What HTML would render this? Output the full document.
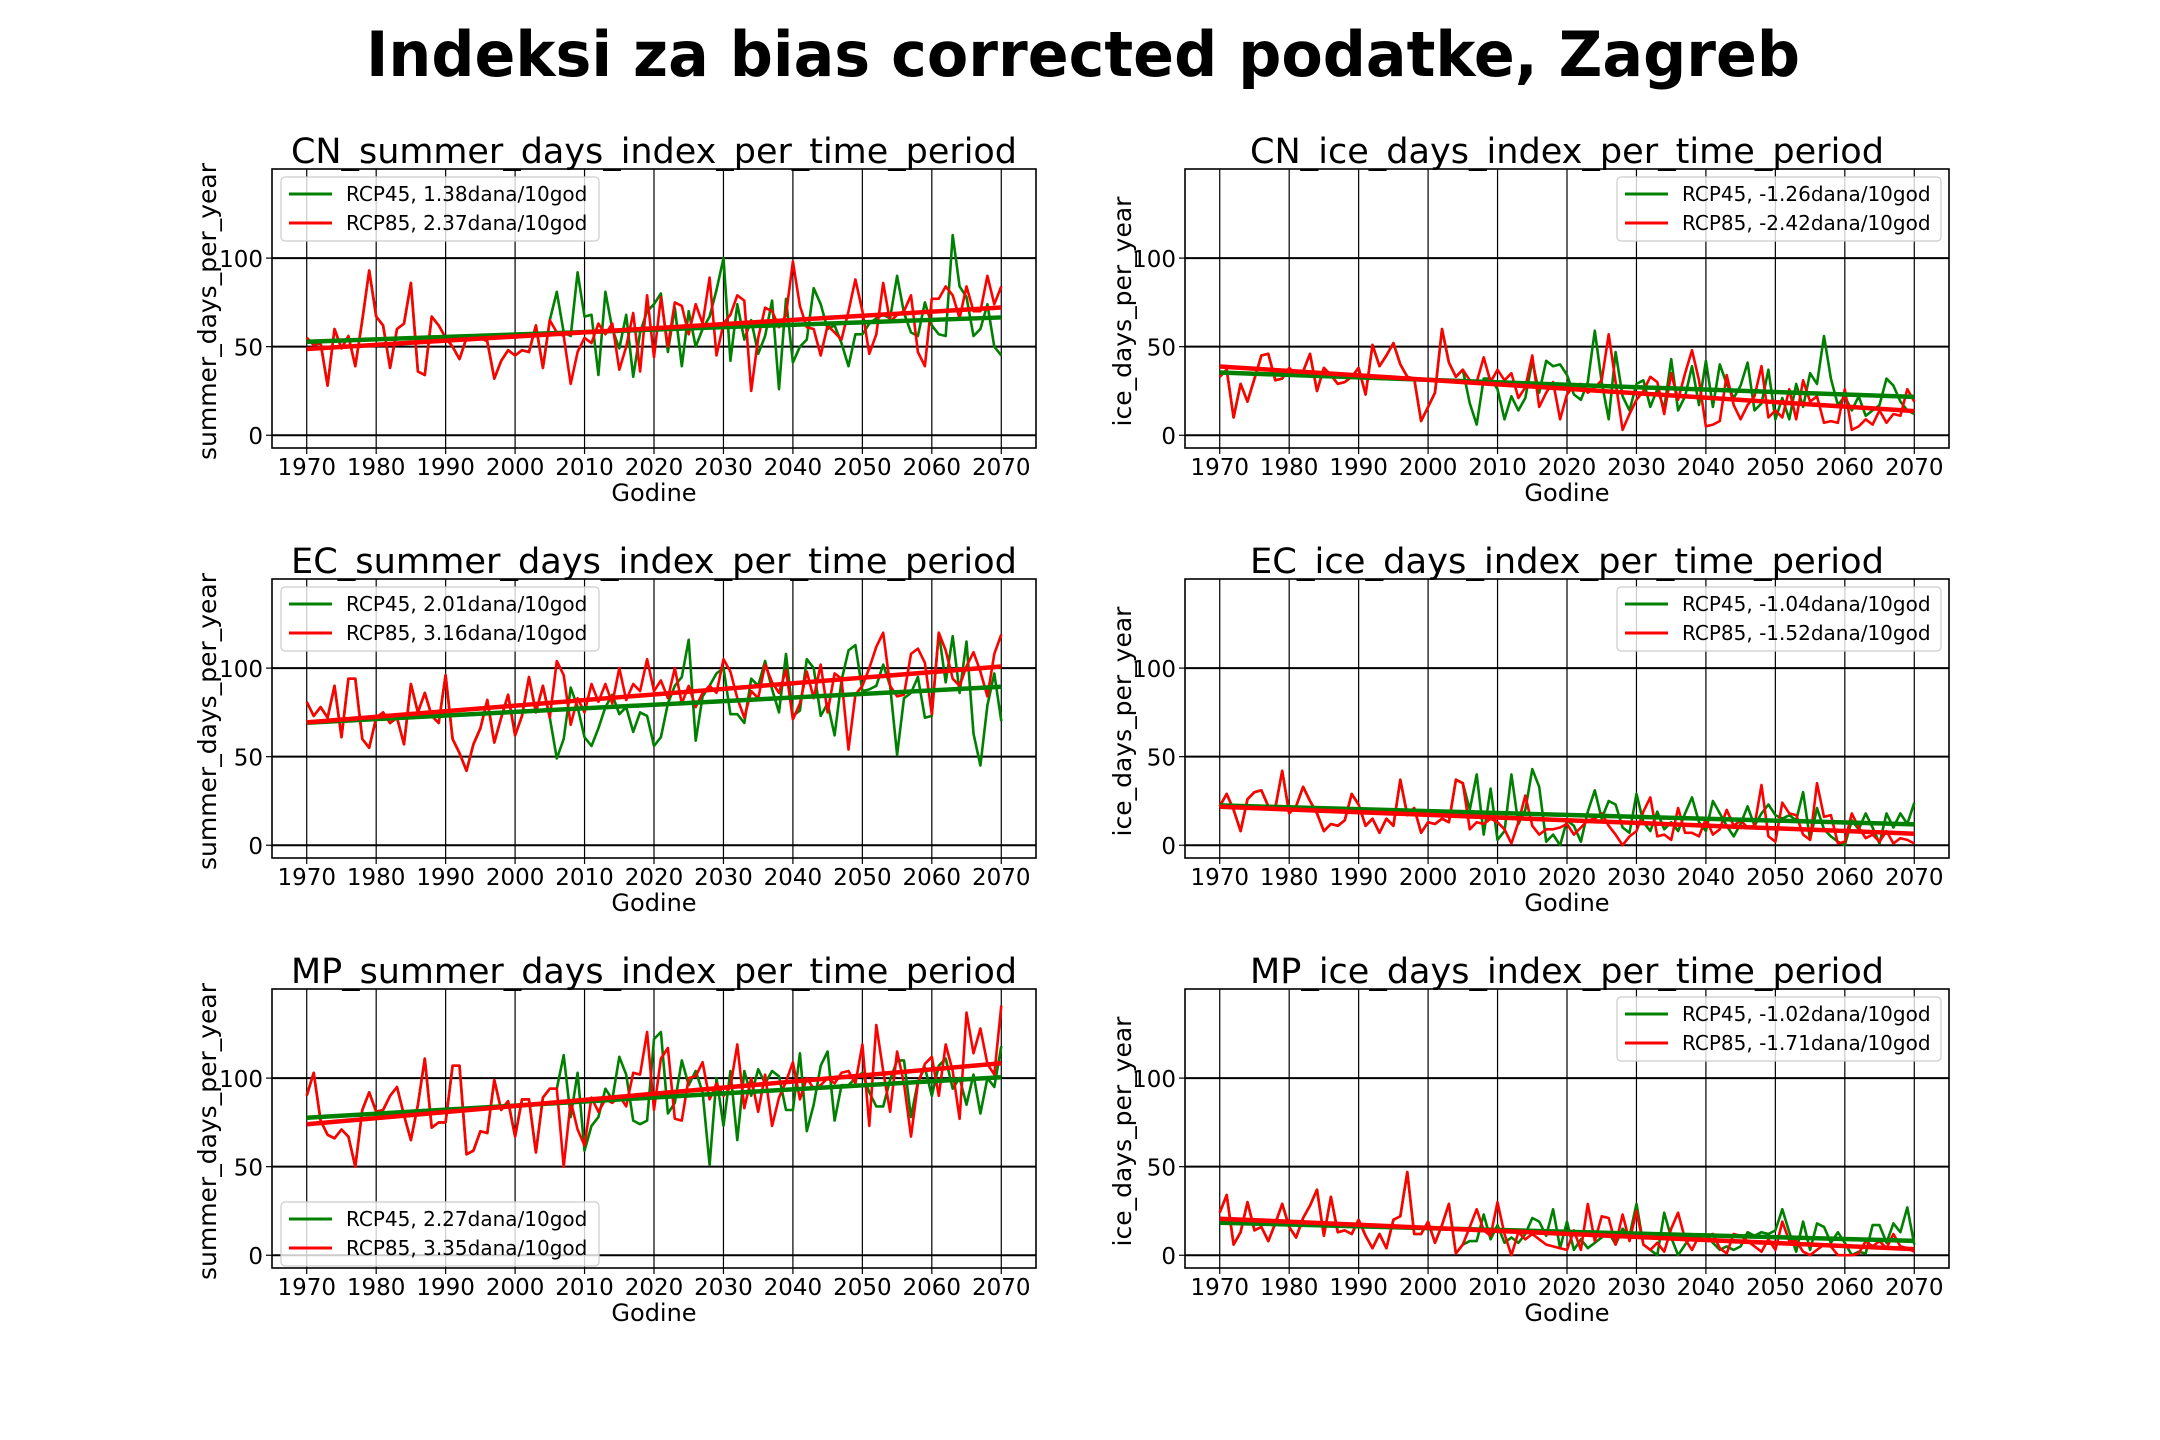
<!DOCTYPE html>
<html><head><meta charset="utf-8"><style>
html,body{margin:0;padding:0;background:#fff;}
svg{display:block;}
text{font-family:"DejaVu Sans","Liberation Sans",sans-serif;}
</style></head>
<body>
<svg id="fig" width="2160" height="1440" viewBox="0 0 2160 1440" xmlns="http://www.w3.org/2000/svg">
<rect x="0" y="0" width="2160" height="1440" fill="#fff"/>
<text x="1083" y="76" text-anchor="middle" font-size="62" font-weight="bold" textLength="1434" lengthAdjust="spacingAndGlyphs">Indeksi za bias corrected podatke, Zagreb</text>
</svg>
<script>
// ---- data (values per year 1970..2070; historical part shared, then scenario parts) ----
const cnSummerHist=[55,51,52,28,60,49,56,39,65,93, 67,62,38,60,63,86,36,34,67,62, 55,50,43,55,55,55,53,32,42,48, 45,48,47,62,38,65];
const cnSummer45=[81,58,56,92,67,68,34,81,60,49, 68,33,58,70,74,80,47,72,39,70, 50,60,67,82,100,42,74,54,65,46, 56,76,26,77,41,50,54,83,74,60, 62,52,39,57,57,63,66,68,66,90, 69,58,56,75,62,57,56,113,84,78, 56,60,74,50,45];
const cnSummer85=[58,56,29,47,55,52,63,57,63,37, 50,69,36,79,44,78,50,75,73,57, 74,63,89,45,63,68,79,76,25,55, 72,70,61,68,98,73,61,60,45,62, 58,54,70,88,70,46,57,86,64,68, 70,79,47,39,77,77,84,79,66,84, 70,70,90,74,84];
const cnIceHist=[33,37,10,29,19,32,45,46,31,32, 38,34,36,46,25,38,34,29,30,33, 38,23,51,39,45,52,40,33,32,8, 16,24,60,41,33,37];
const cnIce45=[18,6,32,32,26,9,22,14,21,42, 24,42,39,40,34,23,20,30,59,30, 9,47,22,14,29,31,16,26,15,43, 14,22,39,17,42,16,40,29,21,28, 41,14,18,37,9,21,9,29,16,35, 29,56,32,17,22,14,22,11,14,17, 32,28,19,14,12];
const cnIce85=[31,30,44,30,37,31,35,21,27,45, 16,24,30,9,23,28,29,24,27,31, 57,30,3,12,20,25,33,30,12,35, 20,35,48,31,5,6,8,34,17,9, 17,22,39,10,14,10,26,9,31,19, 22,7,8,7,26,3,5,9,6,14, 7,12,11,26,19];
const ecSummerHist=[81,73,78,72,90,61,94,94,60,55, 72,75,69,72,57,91,75,86,73,69, 96,60,52,42,57,66,82,58,72,85, 62,73,95,75,90,72];
const ecSummer45=[49,60,89,78,61,56,66,78,85,74, 78,64,75,73,56,61,80,90,95,116, 59,84,90,97,100,74,74,69,94,90, 104,88,75,108,73,76,105,100,73,80, 62,93,110,113,87,88,90,102,90,51, 83,86,95,72,73,120,92,118,86,115, 63,45,79,97,70];
const ecSummer85=[104,96,68,83,75,91,81,91,80,100, 82,91,87,105,87,93,83,100,80,90, 78,86,90,86,105,98,83,72,87,83, 102,92,86,99,71,80,98,83,102,75, 97,94,54,85,90,100,112,120,90,84, 85,108,111,103,74,120,110,94,90,101, 109,98,84,108,119];
const ecIceHist=[22,29,20,8,26,30,31,22,21,42, 18,22,33,25,18,8,12,11,14,29, 23,11,15,7,15,11,37,17,21,7, 13,12,15,13,37,35];
const ecIce45=[20,40,6,32,3,8,40,12,20,43, 33,2,6,0,14,11,2,19,31,15, 25,23,10,7,29,13,8,19,9,13, 8,18,27,13,8,25,18,11,5,12, 22,11,18,23,17,15,17,14,30,3, 21,9,5,2,0,14,9,18,10,1, 18,10,18,12,24];
const ecIce85=[9,13,12,15,13,9,1,13,28,11, 6,9,9,10,12,6,10,14,15,18, 11,6,0,5,8,19,27,5,6,3, 21,7,7,5,15,6,9,20,11,14, 10,11,34,5,2,24,18,17,6,3, 35,16,17,1,2,18,10,4,6,2, 8,1,4,3,1];
const mpSummerHist=[90,103,76,68,66,71,67,50,82,92, 81,82,90,95,79,65,85,111,72,75, 75,107,107,57,59,70,69,99,82,87, 67,88,88,58,89,94];
const mpSummer45=[94,113,78,103,59,73,78,94,88,112, 102,76,74,76,122,126,80,86,110,96, 104,92,51,100,73,104,65,104,90,105, 97,104,101,82,82,114,70,85,107,115, 76,96,96,100,103,92,84,84,99,110, 110,78,98,106,90,107,111,94,100,85, 102,80,100,95,118];
const mpSummer85=[94,50,87,71,62,89,81,88,86,90, 84,103,102,126,82,111,117,77,76,100, 101,109,88,97,90,95,119,83,100,81, 102,73,89,98,109,88,100,94,96,100, 97,103,104,97,119,73,130,104,81,115, 97,67,97,108,112,90,119,104,77,137, 114,128,108,102,141];
const mpIceHist=[24,34,6,13,30,14,16,8,18,29, 16,10,21,28,37,11,33,13,14,12, 20,11,4,12,4,20,22,47,12,12, 19,7,17,29,1,6];
const mpIce45=[8,8,23,9,17,7,10,7,12,21, 19,11,26,4,19,3,9,4,7,10, 13,6,15,11,29,6,3,0,24,10, 0,6,11,10,12,7,3,5,3,5, 13,11,13,12,14,26,13,2,19,3, 18,16,7,13,7,0,2,1,17,17, 7,18,13,27,6];
const mpIce85=[16,26,14,11,30,12,0,13,9,12, 9,6,5,4,3,14,3,29,8,22, 21,6,23,8,25,6,3,7,2,15, 24,9,3,11,11,12,4,1,12,11, 8,5,2,9,3,19,8,8,2,0, 3,6,5,0,0,0,1,8,5,8, 4,12,5,4,2];
const xTicks=[1970,1980,1990,2000,2010,2020,2030,2040,2050,2060,2070];
const yTicks=[0,50,100];
const titles=["CN_summer_days_index_per_time_period","CN_ice_days_index_per_time_period","EC_summer_days_index_per_time_period","EC_ice_days_index_per_time_period","MP_summer_days_index_per_time_period","MP_ice_days_index_per_time_period"];
const legend45=["RCP45, 1.38dana/10god","RCP45, -1.26dana/10god","RCP45, 2.01dana/10god","RCP45, -1.04dana/10god","RCP45, 2.27dana/10god","RCP45, -1.02dana/10god"];
const legend85=["RCP85, 2.37dana/10god","RCP85, -2.42dana/10god","RCP85, 3.16dana/10god","RCP85, -1.52dana/10god","RCP85, 3.35dana/10god","RCP85, -1.71dana/10god"];
const yLabels=["summer_days_per_year","ice_days_per_year","summer_days_per_year","ice_days_per_year","summer_days_per_year","ice_days_per_year"];

const panelsData=[
 [cnSummerHist,cnSummer45,cnSummer85],[cnIceHist,cnIce45,cnIce85],
 [ecSummerHist,ecSummer45,ecSummer85],[ecIceHist,ecIce45,ecIce85],
 [mpSummerHist,mpSummer45,mpSummer85],[mpIceHist,mpIce45,mpIce85]];
const prefixes=["cn-summer","cn-ice","ec-summer","ec-ice","mp-summer","mp-ice"];

const NS="http://www.w3.org/2000/svg";
const svg=document.getElementById('fig');
function mk(tag,attrs,parent){const e=document.createElementNS(NS,tag);for(const k in attrs)e.setAttribute(k,attrs[k]);(parent||svg).appendChild(e);return e;}

const X0=1965,X1=2075,Y0=-7.2,Y1=150.3;
const colL=[272,1185],W=764,rowT=[169,579,989],H=279;

function fit(xs,ys){const n=xs.length;let sx=0,sy=0,sxx=0,sxy=0;for(let i=0;i<n;i++){sx+=xs[i];sy+=ys[i];sxx+=xs[i]*xs[i];sxy+=xs[i]*ys[i];}
 const b=(n*sxy-sx*sy)/(n*sxx-sx*sx);const a=(sy-b*sx)/n;return [a,b];}

panelsData.forEach((pd,p)=>{
 const col=p%2,row=Math.floor(p/2);
 const L=colL[col],T=rowT[row];
 const sx=v=>L+(v-X0)/(X1-X0)*W;
 const sy=v=>T+H-(v-Y0)/(Y1-Y0)*H;
 const g=mk('g',{});
 
 
 xTicks.forEach(t=>{const l=mk('line',{x1:sx(t),x2:sx(t),y1:T,y2:T+H,stroke:'#000','stroke-width':1.2},g);
  });
 yTicks.forEach(t=>{const l=mk('line',{x1:L,x2:L+W,y1:sy(t),y2:sy(t),stroke:'#000','stroke-width':2},g);
  });
 const years=[];for(let i=0;i<pd[0].length+pd[1].length;i++)years.push(1970+i);
 const s45=pd[0].concat(pd[1]),s85=pd[0].concat(pd[2]);
 const series=[[s45,'#008000','rcp45'],[s85,'#ff0000','rcp85']];
 series.forEach(([s,c,nm])=>{
  const pts=s.map((v,i)=>sx(years[i]).toFixed(1)+','+sy(v).toFixed(1)).join(' ');
  const pl=mk('polyline',{points:pts,fill:'none',stroke:c,'stroke-width':2.6,'stroke-linejoin':'round'},g);
  
  
 });
 series.forEach(([s,c,nm])=>{
  const [a,b]=fit(years,s);
  const ya=years[0],yb=years[years.length-1];
  const tl=mk('line',{x1:sx(ya),y1:sy(a+b*ya),x2:sx(yb),y2:sy(a+b*yb),stroke:c,'stroke-width':4.5,'stroke-linecap':'butt'},g);
  
  
 });
 const fr=mk('rect',{x:L,y:T,width:W,height:H,fill:'none',stroke:'#000','stroke-width':1.6},g);
 
 xTicks.forEach(t=>{
  const tk=mk('line',{x1:sx(t),x2:sx(t),y1:T+H,y2:T+H+6,stroke:'#000','stroke-width':1.2},g);
  
  const tx=mk('text',{x:sx(t),y:T+H+27,'text-anchor':'middle','font-size':23},g);tx.textContent=t;
  });
 yTicks.forEach(t=>{
  const tk=mk('line',{x1:L-6,x2:L,y1:sy(t),y2:sy(t),stroke:'#000','stroke-width':1.2},g);
  
  const tx=mk('text',{x:L-9,y:sy(t)+9,'text-anchor':'end','font-size':23},g);tx.textContent=t;
  });
 const xl=mk('text',{x:L+W/2,y:T+H+53,'text-anchor':'middle','font-size':24},g);xl.textContent='Godine';
 
 const ylx=col===0?216:1131;
 const yl=mk('text',{x:ylx,y:T+H/2+3,'text-anchor':'middle','font-size':25,transform:'rotate(-90 '+ylx+' '+(T+H/2+3)+')'},g);yl.textContent=yLabels[p];
 
 const tt=mk('text',{x:L+W/2,y:T-6,'text-anchor':'middle','font-size':35,textLength:(col===0?726:634),lengthAdjust:'spacingAndGlyphs'},g);tt.textContent=titles[p];
 
 let lx,ly;const lw=col===0?318:324;
 if(col===1){lx=L+W-lw-8;ly=T+8;} else if(row===2){lx=L+9;ly=T+H-66;} else {lx=L+9;ly=T+8;}
 const lg=mk('g',{},g);
 
 const lb=mk('rect',{x:lx,y:ly,width:lw,height:64,rx:4,fill:'rgba(255,255,255,0.8)',stroke:'#cccccc','stroke-width':1.2},lg);
 
 [[legend45[p],'#008000'],[legend85[p],'#ff0000']].forEach(([txt,c],i)=>{
  const cy=ly+17+i*29;
  const ln=mk('line',{x1:lx+8,x2:lx+51,y1:cy,y2:cy,stroke:c,'stroke-width':3},lg);
  
  const t=mk('text',{x:lx+65,y:cy+7,'font-size':20},lg);t.textContent=txt;
  
 });
});
</script>
</body></html>
